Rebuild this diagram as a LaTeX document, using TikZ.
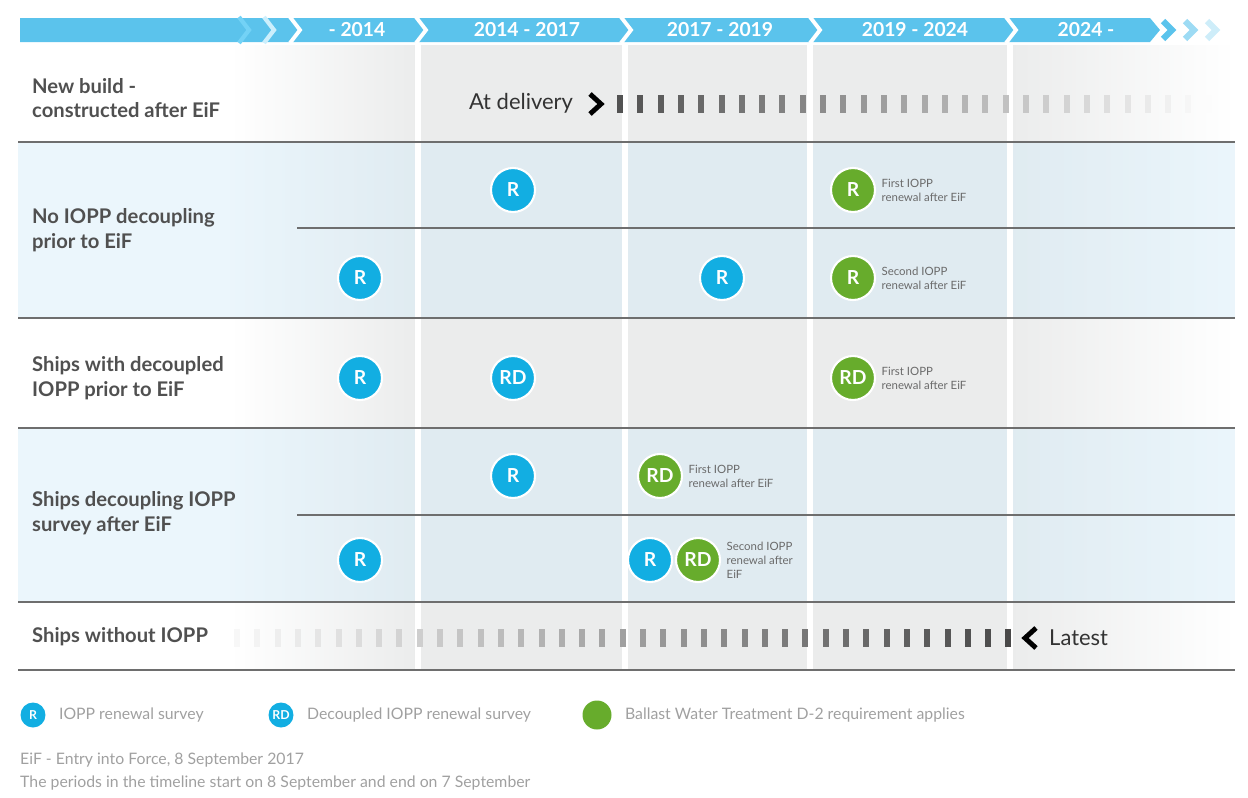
\documentclass[tikz,border=0pt]{standalone}
\usepackage{fontspec}
\setmainfont{Lato}
\usetikzlibrary{positioning, calc}

\definecolor{hdrblue}{HTML}{5BC3EC}
\definecolor{ioppblue}{HTML}{12AEE2}
\definecolor{bwtgreen}{HTML}{67AC2C}
\definecolor{colgray}{HTML}{EBECEC}
\definecolor{rowblue}{HTML}{D3EBF8}
\definecolor{labelgray}{HTML}{505050}
\definecolor{notegray}{HTML}{6A6A6A}
\definecolor{leggray}{HTML}{A0A0A0}
\definecolor{rulegray}{HTML}{6E6E6E}

\begin{document}
\begin{tikzpicture}[
  x=0.02cm, y=-0.02cm,
  rowlabel/.style={anchor=west, align=left, text=labelgray,
    font=\fontsize{11.5}{14}\selectfont\bfseries},
  period/.style={text=white, font=\fontsize{11}{13}\selectfont\bfseries},
  survey/.style={circle, draw=white, line width=1.2pt, minimum size=0.88cm,
    inner sep=0pt, text=white, font=\fontsize{11}{13}\selectfont\bfseries},
  iopp/.style={survey, fill=ioppblue},
  bwt/.style={survey, fill=bwtgreen},
  note/.style={anchor=west, align=left, text=notegray, inner sep=1pt,
    font=\fontsize{6.5}{8}\selectfont},
  legsym/.style={circle, inner sep=0pt, minimum size=0.5cm, text=white,
    font=\fontsize{7}{8}\selectfont\bfseries},
  legtext/.style={anchor=west, text=leggray, font=\fontsize{9}{11}\selectfont},
  bigtext/.style={text=black!80, font=\fontsize{12.5}{14}\selectfont},
  rowrule/.style={draw=rulegray, line width=1.6pt},
  subrule/.style={draw=rulegray, line width=1pt},
  colsep/.style={draw=white, line width=3.4pt}
]
\useasboundingbox (0,0) rectangle (1248,798);

% column backgrounds
\shade[left color=white, right color=colgray] (230,45) rectangle (418,670);
\fill[colgray] (418,45) rectangle (1010,670);
\shade[left color=colgray, right color=white] (1010,45) rectangle (1235,670);
\fill[rowblue, opacity=0.45] (18,142) rectangle (1235,318);
\fill[rowblue, opacity=0.45] (18,428) rectangle (1235,602);
\foreach \cx in {418,625,810,1010}
  \draw[colsep] (\cx,45) -- (\cx,670);

% rules between rows
\foreach \ry in {142,318,428,602,670}
  \draw[rowrule] (18,\ry) -- (1235,\ry);
\draw[subrule] (297,228) -- (1235,228);
\draw[subrule] (297,515) -- (1235,515);

% header bar
\fill[hdrblue] (20,18) -- (1150,18) -- (1160,30) -- (1150,42) -- (20,42) -- cycle;
\draw[cyan!55, line width=2.4pt] (239,17) -- (249,30) -- (239,43);
\draw[cyan!20, line width=2.4pt] (264,17) -- (274,30) -- (264,43);
\foreach \sx in {290,416,621,810,1006}
  \draw[white, line width=2.2pt] (\sx,17) -- (\sx+10,30) -- (\sx,43);
\draw[hdrblue, line width=3.5pt] (1163,21) -- (1172,30) -- (1163,39);
\draw[hdrblue!60, line width=3.5pt] (1185,21) -- (1194,30) -- (1185,39);
\draw[hdrblue!30, line width=3.5pt] (1207,21) -- (1216,30) -- (1207,39);
\node[period] (p14) at (357,30) {- 2014};
\node[period] (p1417) at (527,30) {2014 - 2017};
\node[period] (p1719) at (720,30) {2017 - 2019};
\node[period] (p1924) at (915,30) {2019 - 2024};
\node[period] (p24) at (1086,30) {2024 -};

% row labels
\node[rowlabel] (newbuild) at (26,98) {New build -\\constructed after EiF};
\node[rowlabel] (nodecoup) at (26,230) {No IOPP decoupling\\prior to EiF};
\node[rowlabel] (withdecoup) at (26,378) {Ships with decoupled\\IOPP prior to EiF};
\node[rowlabel] (decoupafter) at (26,513) {Ships decoupling IOPP\\survey after EiF};
\node[rowlabel] (noiopp) at (26,637) {Ships without IOPP};

% new build row
\node[bigtext] (delivery) at (521,103) {At delivery};
\draw[black, line width=2.8pt] (590,94) -- (601,104) -- (590,114);
\foreach \i [evaluate=\i as \lvl using 68-2.3*\i] in {0,...,29}
  \fill[black!\lvl] ({617+20.3*\i},95) rectangle ({623+20.3*\i},113);

% no decoupling rows
\node[iopp] (nd1) at (513,190) {R};
\node[bwt] (nd2) at (853,190) {R};
\node[note, right=2pt of nd2] {First IOPP\\renewal after EiF};
\node[iopp] (nd3) at (360,278) {R};
\node[iopp] (nd4) at (722,278) {R};
\node[bwt] (nd5) at (853,278) {R};
\node[note, right=2pt of nd5] {Second IOPP\\renewal after EiF};

% decoupled before EiF
\node[iopp] (wd1) at (360,378) {R};
\node[iopp] (wd2) at (513,378) {RD};
\node[bwt] (wd3) at (853,378) {RD};
\node[note, right=2pt of wd3] {First IOPP\\renewal after EiF};

% decoupling after EiF
\node[iopp] (da1) at (513,476) {R};
\node[bwt] (da2) at (660,476) {RD};
\node[note, right=2pt of da2] {First IOPP\\renewal after EiF};
\node[iopp] (da3) at (360,560) {R};
\node[iopp] (da4) at (650,560) {R};
\node[bwt] (da5) at (698,560) {RD};
\node[note, right=2pt of da5] {Second IOPP\\renewal after\\EiF};

% without IOPP row
\foreach \i [evaluate=\i as \lvl using 3+1.8*\i] in {0,...,38}
  \fill[black!\lvl] ({234+20.3*\i},629) rectangle ({240+20.3*\i},647);
\draw[black, line width=2.8pt] (1036,628) -- (1025,638) -- (1036,648);
\node[bigtext, anchor=west] (latest) at (1043,638) {Latest};

% legend
\node[legsym, fill=ioppblue] (lr) at (33,715) {R};
\node[legtext, right=4pt of lr] {IOPP renewal survey};
\node[legsym, fill=ioppblue] (lrd) at (281,715) {RD};
\node[legtext, right=4pt of lrd] {Decoupled IOPP renewal survey};
\node[legsym, fill=bwtgreen, minimum size=0.58cm] (lg) at (597,715) {};
\node[legtext, right=4pt of lg] {Ballast Water Treatment D-2 requirement applies};

\node[legtext] (eif) at (14,760) {EiF - Entry into Force, 8 September 2017};
\node[legtext] (periods) at (14,783) {The periods in the timeline start on 8 September and end on 7 September};

\end{tikzpicture}
\end{document}
